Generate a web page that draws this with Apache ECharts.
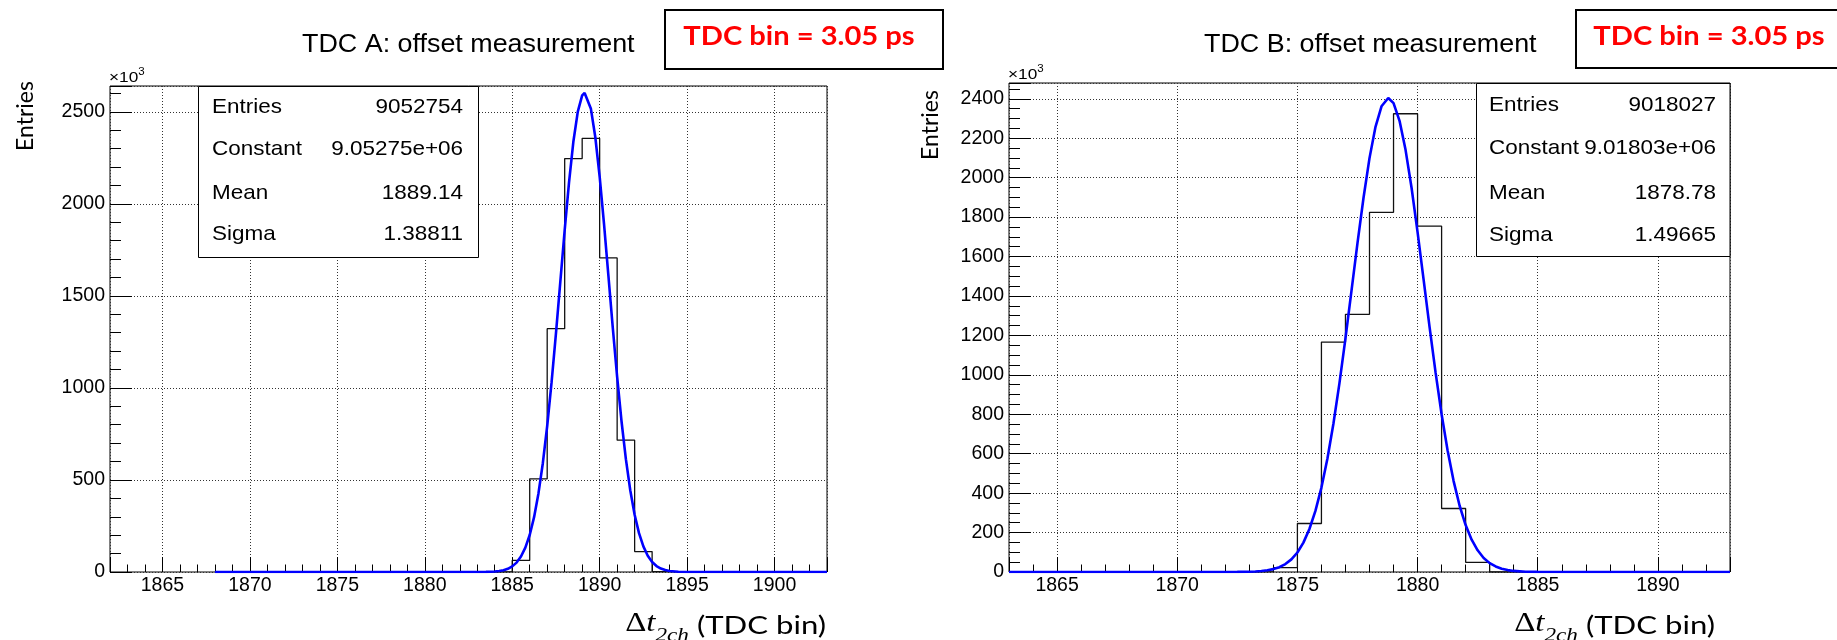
<!DOCTYPE html>
<html><head><meta charset="utf-8">
<script src="https://cdn.jsdelivr.net/npm/echarts@6.0.0/dist/echarts.min.js"></script>
<style>html,body{margin:0;padding:0;background:#fff;} #c{width:1837px;height:640px;}</style>
</head><body><div id="c"></div>
<script>
// ---------- Panel A (TDC A) ----------
const histEdgesA  = [1868, 1884, 1885, 1886, 1887, 1888, 1889, 1890, 1891, 1892, 1893, 1894, 1903];
const histCountsA = [0, 2, 63, 506, 1322, 2246, 2356, 1706, 716, 111, 2, 0, 0];
const fitXA = [1868, 1880, 1883, 1883.5,
  1884, 1884.25, 1884.5, 1884.75, 1885, 1885.25, 1885.5, 1885.75, 1886, 1886.25, 1886.5, 1886.75,
  1887, 1887.25, 1887.5, 1887.75, 1888, 1888.25, 1888.5, 1888.75, 1889,
  1889.14,
  1889.25, 1889.5, 1889.75, 1890, 1890.25, 1890.5, 1890.75, 1891, 1891.25, 1891.5, 1891.75,
  1892, 1892.25, 1892.5, 1892.75, 1893, 1893.25, 1893.5, 1893.75, 1894,
  1894.5, 1895, 1896, 1903];
const fitYA = [0, 0, 0.1, 0.7,
  2.7, 5.3, 9.8, 17.5, 30.5, 51, 84, 132, 201, 298, 427, 591,
  793, 1030, 1295, 1576, 1857, 2118, 2340, 2501, 2589,
  2602,
  2594, 2516, 2363, 2148, 1890, 1610, 1328, 1060, 819, 613, 444,
  311, 211, 139, 88, 54.5, 32.5, 18.7, 10.5, 5.7,
  1.5, 0.35, 0, 0];
const xTicksA = [1865, 1870, 1875, 1880, 1885, 1890, 1895, 1900];
const yTicksA = [0, 500, 1000, 1500, 2000, 2500];
const statsA = [["Entries", "9052754"], ["Constant", "9.05275e+06"], ["Mean", "1889.14"], ["Sigma", "1.38811"]];

// ---------- Panel B (TDC B) ----------
const histEdgesB  = [1863, 1873, 1874, 1875, 1876, 1877, 1878, 1879, 1880, 1881, 1882, 1883, 1893];
const histCountsB = [0, 2, 22, 246, 1166, 1307, 1824, 2324, 1754, 322, 49, 0, 0];
const fitXB = [1863, 1871, 1872, 1872.5,
  1873, 1873.25, 1873.5, 1873.75, 1874, 1874.25, 1874.5, 1874.75, 1875, 1875.25, 1875.5, 1875.75,
  1876, 1876.25, 1876.5, 1876.75, 1877, 1877.25, 1877.5, 1877.75, 1878, 1878.25, 1878.5,
  1878.78,
  1879, 1879.25, 1879.5, 1879.75, 1880, 1880.25, 1880.5, 1880.75, 1881, 1881.25, 1881.5, 1881.75,
  1882, 1882.25, 1882.5, 1882.75, 1883, 1883.25, 1883.5, 1883.75, 1884,
  1884.5, 1885, 1886, 1893];
const fitYB = [0, 0, 0.1, 0.4,
  1.4, 2.6, 4.8, 8.5, 14.7, 24.6, 40.3, 64, 99, 149, 218, 310,
  428, 576, 753, 958, 1185, 1426, 1668, 1897, 2099, 2258, 2362,
  2404,
  2378, 2288, 2141, 1949, 1724, 1484, 1242, 1011, 800, 616, 461, 336,
  238, 164, 110, 71, 45, 28, 16.6, 9.7, 5.5,
  1.6, 0.4, 0, 0];
const xTicksB = [1865, 1870, 1875, 1880, 1885, 1890];
const yTicksB = [0, 200, 400, 600, 800, 1000, 1200, 1400, 1600, 1800, 2000, 2200, 2400];
const statsB = [["Entries", "9018027"], ["Constant", "9.01803e+06"], ["Mean", "1878.78"], ["Sigma", "1.49665"]];

const titleA = "TDC A: offset measurement";
const titleB = "TDC B: offset measurement";
const binNote = "TDC bin = 3.05 ps";
const yName = "Entries";

// ---------- build ----------
function zip(xs, ys) { return xs.map((x, i) => [x, ys[i]]); }
const SANS = 'Liberation Sans';
const gridLine = { show: true, lineStyle: { color: '#333', width: 1, type: [1, 2] } };

function majorX(gi, min, max, ticks) {
  return { gridIndex: gi, type: 'value', min: min, max: max, minInterval: 5, maxInterval: 5, splitNumber: 8,
    position: 'bottom', axisLine: { show: false },
    axisTick: { show: true, inside: true, length: 15, lineStyle: { color: '#000', width: 1 } },
    axisLabel: { color: '#000', fontSize: 19.5, fontFamily: SANS, margin: 4,
      formatter: v => ticks.includes(v) ? String(v) : '' },
    splitLine: gridLine };
}
function minorX(gi, min, max) {
  return { gridIndex: gi, type: 'value', min: min, max: max, interval: 1, position: 'bottom', offset: 0,
    axisLine: { show: false },
    axisTick: { show: true, inside: true, length: 7.5, lineStyle: { color: '#000', width: 1 } },
    axisLabel: { show: false }, splitLine: { show: false } };
}
function majorY(gi, max, step, ticks) {
  return { gridIndex: gi, type: 'value', min: 0, max: max, interval: step, position: 'left',
    axisLine: { show: false },
    axisTick: { show: true, inside: true, length: 22, lineStyle: { color: '#000', width: 1 } },
    axisLabel: { color: '#000', fontSize: 19.5, fontFamily: SANS, margin: 5,
      formatter: v => ticks.includes(v) ? String(v) : '' },
    splitLine: gridLine };
}
function minorY(gi, max, step) {
  return { gridIndex: gi, type: 'value', min: 0, max: max, interval: step, position: 'left', offset: 0,
    axisLine: { show: false },
    axisTick: { show: true, inside: true, length: 11, lineStyle: { color: '#000', width: 1 } },
    axisLabel: { show: false }, splitLine: { show: false } };
}

function text(x, y, str, opt) {
  opt = opt || {};
  return { type: 'text', x: x, y: y, z: 100, scaleX: opt.sx || 1, rotation: opt.rot || 0,
    style: { text: str, fill: opt.fill || '#000', fontFamily: opt.family || SANS, fontSize: opt.size || 21,
      fontWeight: opt.weight || 'normal', align: opt.align || 'left', verticalAlign: opt.va || 'middle',
      rich: opt.rich } };
}
function statBox(x, y, w, h, rows, lx, rx, rowY) {
  const els = [{ type: 'rect', z: 90, shape: { x: x, y: y, width: w, height: h },
    style: { fill: '#fff', stroke: '#000', lineWidth: 1 } }];
  rows.forEach((r, i) => {
    els.push(text(lx, rowY[i], r[0], { size: 21, sx: 1.07 }));
    els.push(text(rx, rowY[i], r[1], { size: 21, sx: 1.07, align: 'right' }));
  });
  return els;
}
const xNameRich = {
  d: { fontFamily: 'Liberation Serif', fontSize: 27, padding: [0, 0, 8, 0], verticalAlign: 'bottom' },
  t: { fontFamily: 'Liberation Serif', fontStyle: 'italic', fontSize: 27, padding: [0, 0, 8, 0], verticalAlign: 'bottom' },
  s: { fontFamily: 'Liberation Serif', fontStyle: 'italic', fontSize: 19, padding: [0, 0, 0, 0], verticalAlign: 'bottom' },
  n: { fontFamily: 'Lato', fontSize: 25.5, padding: [0, 0, 6, 0], verticalAlign: 'bottom' }
};
const xNameStr = '{d|Δ}{t|t}{s|2ch}{n| (TDC bin)}';
const pow = { a: { fontFamily: SANS, fontSize: 15, padding: [0, 0, 0, 0], verticalAlign: 'bottom' },
              b: { fontFamily: SANS, fontSize: 10, padding: [0, 0, 8, 0], verticalAlign: 'bottom' } };

const graphic = [].concat(
  [
    text(302, 45, titleA, { size: 25, sx: 1.075 }),
    text(1204, 45, titleB, { size: 25, sx: 1.075 }),
    { type: 'rect', z: 90, shape: { x: 665, y: 10, width: 278, height: 59 }, style: { fill: '#fff', stroke: '#000', lineWidth: 2 } },
    { type: 'rect', z: 90, shape: { x: 1576, y: 10, width: 280, height: 58 }, style: { fill: '#fff', stroke: '#000', lineWidth: 2 } },
    text(799, 37, binNote, { size: 26, sx: 1.12, family: 'Lato', weight: 'bold', fill: '#ff0000', align: 'center' }),
    text(1709, 37, binNote, { size: 26, sx: 1.12, family: 'Lato', weight: 'bold', fill: '#ff0000', align: 'center' }),
    text(26, 116, yName, { size: 23, family: 'Lato', align: 'center', rot: Math.PI / 2 }),
    text(931, 125, yName, { size: 23, family: 'Lato', align: 'center', rot: Math.PI / 2 }),
    text(826, 645, xNameStr, { sx: 1.22, align: 'right', va: 'bottom', rich: xNameRich }),
    text(1715, 645, xNameStr, { sx: 1.22, align: 'right', va: 'bottom', rich: xNameRich }),
    text(109, 85, '{a|×10}{b|3}', { sx: 1.15, va: 'bottom', rich: pow }),
    text(1008, 82, '{a|×10}{b|3}', { sx: 1.15, va: 'bottom', rich: pow })
  ],
  statBox(198.5, 86.5, 280, 171, statsA, 212, 463, [107, 149, 193, 234]),
  statBox(1476.5, 83.5, 253.5, 173, statsB, 1489, 1716, [105, 148, 193, 235])
);

const option = {
  backgroundColor: '#fff',
  animation: false,
  grid: [
    { left: 110, top: 86, width: 717, height: 486, show: true, borderColor: '#000', borderWidth: 1, backgroundColor: 'rgba(0,0,0,0)' },
    { left: 1009, top: 83, width: 721, height: 489, show: true, borderColor: '#000', borderWidth: 1, backgroundColor: 'rgba(0,0,0,0)' }
  ],
  xAxis: [ majorX(0, 1862, 1903, xTicksA), minorX(0, 1862, 1903),
           majorX(1, 1863, 1893, xTicksB), minorX(1, 1863, 1893) ],
  yAxis: [ majorY(0, 2640, 500, yTicksA), minorY(0, 2640, 100),
           majorY(1, 2480, 200, yTicksB), minorY(1, 2480, 50) ],
  series: [
    { type: 'line', xAxisIndex: 0, yAxisIndex: 0, step: 'end', symbol: 'none', data: zip(histEdgesA, histCountsA),
      lineStyle: { color: '#111', width: 1.3 }, z: 3 },
    { type: 'line', xAxisIndex: 0, yAxisIndex: 0, symbol: 'none', data: zip(fitXA, fitYA),
      lineStyle: { color: '#0000ff', width: 2.6 }, z: 4 },
    { type: 'line', xAxisIndex: 2, yAxisIndex: 2, step: 'end', symbol: 'none', data: zip(histEdgesB, histCountsB),
      lineStyle: { color: '#111', width: 1.3 }, z: 3 },
    { type: 'line', xAxisIndex: 2, yAxisIndex: 2, symbol: 'none', data: zip(fitXB, fitYB),
      lineStyle: { color: '#0000ff', width: 2.6 }, z: 4 }
  ],
  graphic: graphic
};
const chart = echarts.init(document.getElementById('c'));
chart.setOption(option);
</script>
</body></html>
